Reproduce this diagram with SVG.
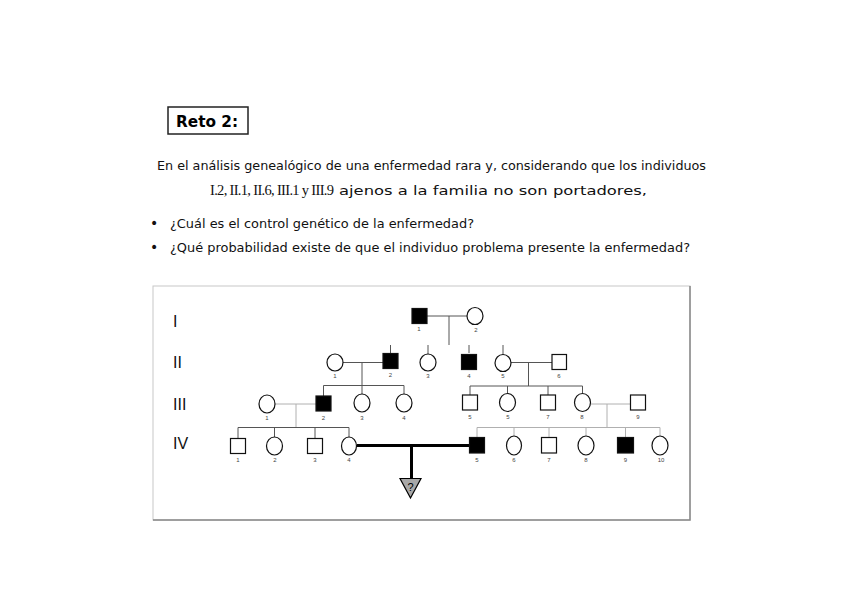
<svg xmlns="http://www.w3.org/2000/svg" width="848" height="599" viewBox="0 0 848 599">
<style>
.t{font-family:"DejaVu Sans","Liberation Sans",sans-serif;font-size:13px;fill:#111}
.b{font-family:"DejaVu Sans","Liberation Sans",sans-serif;font-size:14px;fill:#111}
.s{font-family:"Liberation Serif",serif;font-size:14.5px;fill:#111}
.gen{font-family:"Liberation Sans",Arial,sans-serif;font-size:16px;fill:#111}
.n{font-family:"Liberation Sans",Arial,sans-serif;font-size:6px;fill:#444;text-anchor:middle}
.m{fill:#fff;stroke:#111;stroke-width:1.2}
.a{fill:#000;stroke:#111;stroke-width:1.2}
.c{stroke:#555;stroke-width:1;fill:none}
.cl{stroke:#b0b0b0;stroke-width:1;fill:none}
.ct{stroke:#000;stroke-width:3;fill:none}
</style>
<rect width="848" height="599" fill="#fff"/>
<g id="title">
<rect x="168" y="107" width="80" height="27" fill="#fff" stroke="#222" stroke-width="1.5"/>
<text x="176" y="127" font-family="'DejaVu Sans','Liberation Sans',sans-serif" font-size="16" font-weight="bold" fill="#000" textLength="62" lengthAdjust="spacingAndGlyphs">Reto 2:</text>
</g>
<g id="text">
<text class="t" x="157" y="170" textLength="549" lengthAdjust="spacingAndGlyphs">En el análisis genealógico de una enfermedad rara y, considerando que los individuos</text>
<text class="s" x="210" y="195" textLength="124" lengthAdjust="spacing">I.2, II.1, II.6, III.1 y III.9</text>
<text class="t" x="339" y="195" textLength="308" lengthAdjust="spacingAndGlyphs">ajenos a la familia no son portadores,</text>
<text class="b" x="150" y="228">•</text>
<text class="t" x="170" y="228" textLength="304" lengthAdjust="spacingAndGlyphs">¿Cuál es el control genético de la enfermedad?</text>
<text class="b" x="150" y="252">•</text>
<text class="t" x="170" y="252" textLength="520" lengthAdjust="spacingAndGlyphs">¿Qué probabilidad existe de que el individuo problema presente la enfermedad?</text>
</g>
<g id="frame">
<rect x="153" y="286" width="537" height="234" fill="#fff" stroke="#c8c8c8" stroke-width="1"/>
<path d="M690 286V520H153" stroke="#888" stroke-width="1.5" fill="none"/>
</g>
<g id="generations">
<text class="gen" x="173" y="327">I</text>
<text class="gen" x="173" y="368">II</text>
<text class="gen" x="173" y="410">III</text>
<text class="gen" x="173" y="449">IV</text>
</g>
<g id="connectors">
<path class="c" d="M427 316H467M449 316V345"/>
<path class="c" d="M390.5 345V353M428 345V354M469 345V353M503 345V355"/>
<path class="c" d="M343 362.5H383M362 362.5V385.5M323.5 385.5H404M323.5 385.5V396M362 385.5V394M404 385.5V394"/>
<path class="c" d="M511 362.5H552M528.5 362.5V386M470 386H582.5M470 386V395M507.5 386V393M548 386V395M582.5 386V393"/>
<path class="cl" d="M275 404H316M296 404V427.5"/>
<path class="c" d="M238 427.5H349M238 427.5V438M274.5 427.5V437M315 427.5V438M349 427.5V437"/>
<path class="cl" d="M591 404H630M607 404V427.5M477 427.5H660M477 427.5V437M514 427.5V436M549 427.5V437M586 427.5V436M625.5 427.5V437M660 427.5V436"/>
<path class="ct" d="M357 445.5H469M411.5 445.5V478"/>
</g>
<g id="I-1"><rect class="a" x="412" y="308.5" width="15" height="15"/><text class="n" x="419" y="331">1</text></g>
<g id="I-2"><ellipse class="m" cx="475" cy="316" rx="8" ry="8.5"/><text class="n" x="476" y="332">2</text></g>
<g id="II-1"><ellipse class="m" cx="335" cy="362.5" rx="8" ry="8.5"/><text class="n" x="335" y="378">1</text></g>
<g id="II-2"><rect class="a" x="383" y="353.5" width="15" height="15"/><text class="n" x="390.5" y="377">2</text></g>
<g id="II-3"><ellipse class="m" cx="428" cy="362.5" rx="8" ry="8.5"/><text class="n" x="428" y="378">3</text></g>
<g id="II-4"><rect class="a" x="461.5" y="354.5" width="15" height="15"/><text class="n" x="469" y="378">4</text></g>
<g id="II-5"><ellipse class="m" cx="503" cy="363" rx="8" ry="8.5"/><text class="n" x="503" y="378">5</text></g>
<g id="II-6"><rect class="m" x="552" y="354.5" width="14.5" height="15"/><text class="n" x="559" y="378">6</text></g>
<g id="III-1"><ellipse class="m" cx="267" cy="404" rx="8" ry="9"/><text class="n" x="267" y="420">1</text></g>
<g id="III-2"><rect class="a" x="316" y="396" width="15" height="15"/><text class="n" x="323.5" y="420">2</text></g>
<g id="III-3"><ellipse class="m" cx="362" cy="403" rx="8" ry="9"/><text class="n" x="362" y="420">3</text></g>
<g id="III-4"><ellipse class="m" cx="404" cy="403" rx="8" ry="9"/><text class="n" x="404" y="420">4</text></g>
<g id="III-5"><rect class="m" x="462.5" y="395" width="15" height="15"/><text class="n" x="470" y="419">5</text></g>
<g id="III-6"><ellipse class="m" cx="507.5" cy="402.5" rx="8" ry="9"/><text class="n" x="508" y="419">5</text></g>
<g id="III-7"><rect class="m" x="540.5" y="395" width="15" height="15"/><text class="n" x="548" y="419">7</text></g>
<g id="III-8"><ellipse class="m" cx="582.5" cy="402.5" rx="8" ry="9"/><text class="n" x="582" y="419">8</text></g>
<g id="III-9"><rect class="m" x="630.5" y="395" width="15" height="15"/><text class="n" x="638" y="419">9</text></g>
<g id="IV-1"><rect class="m" x="230.5" y="438.5" width="15" height="15"/><text class="n" x="238" y="462">1</text></g>
<g id="IV-2"><ellipse class="m" cx="274.5" cy="446" rx="8" ry="9"/><text class="n" x="275" y="462">2</text></g>
<g id="IV-3"><rect class="m" x="307.5" y="438.5" width="15" height="15"/><text class="n" x="315" y="462">3</text></g>
<g id="IV-4"><ellipse class="m" cx="349" cy="446" rx="7.5" ry="9"/><text class="n" x="349" y="462">4</text></g>
<g id="IV-5"><rect class="a" x="469.5" y="437.5" width="15" height="15.5"/><text class="n" x="477" y="462">5</text></g>
<g id="IV-6"><ellipse class="m" cx="514" cy="445.5" rx="7.5" ry="9.5"/><text class="n" x="514" y="462">6</text></g>
<g id="IV-7"><rect class="m" x="541.5" y="437.5" width="15" height="15.5"/><text class="n" x="549" y="462">7</text></g>
<g id="IV-8"><ellipse class="m" cx="586" cy="445.5" rx="8" ry="9.5"/><text class="n" x="586" y="462">8</text></g>
<g id="IV-9"><rect class="a" x="617.5" y="437.5" width="16" height="15.5"/><text class="n" x="625.5" y="462">9</text></g>
<g id="IV-10"><ellipse class="m" cx="660" cy="445.5" rx="8" ry="9.5"/><text class="n" x="661" y="462">10</text></g>
<g id="problem">
<polygon points="400,478.5 421,478.5 410.5,498" fill="#a8a8a8" stroke="#000" stroke-width="1.2"/>
<text x="410.5" y="491" font-family="'Liberation Sans',Arial,sans-serif" font-size="11" fill="#000" text-anchor="middle">?</text>
</g>
</svg>
